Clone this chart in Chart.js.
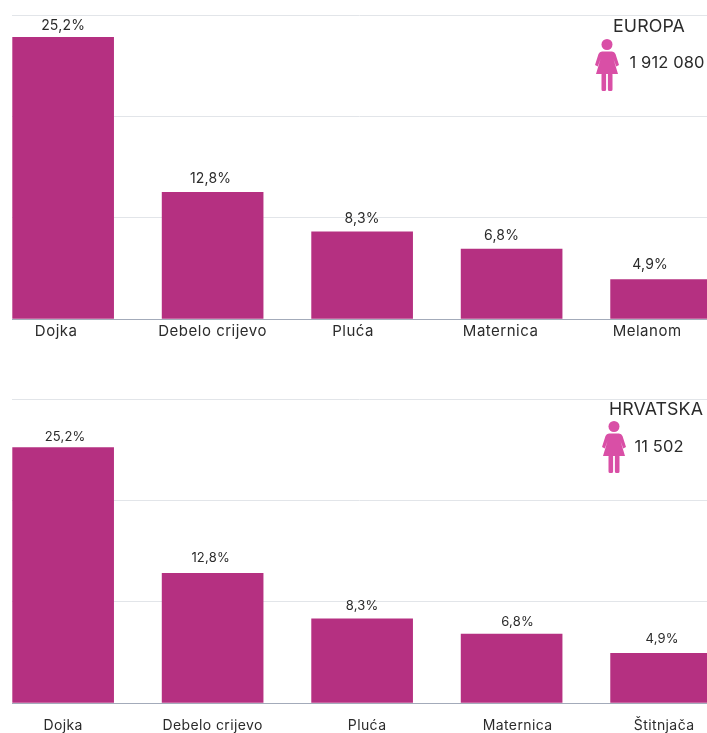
<!DOCTYPE html>
<html><head><meta charset="utf-8">
<script src="https://cdn.jsdelivr.net/npm/chart.js@4"></script>
<style>
html,body{margin:0;padding:0;background:#fff;overflow:hidden}
canvas{position:absolute;left:0}
#c1{top:0}#c2{top:384px}
</style></head><body>
<canvas id="c1" width="707" height="370"></canvas>
<canvas id="c2" width="707" height="349"></canvas>
<script>
const categoriesEuropa = ['Dojka','Debelo crijevo','Pluća','Maternica','Melanom'];
const categoriesHrvatska = ['Dojka','Debelo crijevo','Pluća','Maternica','Štitnjača'];
const valuesEuropa = [27.8,12.5,8.6,6.9,3.9];
const valuesHrvatska = [25.2,12.8,8.3,6.8,4.9];
const labelsEuropa = ['25,2%','12,8%','8,3%','6,8%','4,9%'];
const labelsHrvatska = ['25,2%','12,8%','8,3%','6,8%','4,9%'];
const FONT = 'Inter, sans-serif';
const INK = '#2b2b2b';

function figure(ctx,cx,top,h){
  const s=h/52;
  ctx.save();ctx.translate(cx,top);ctx.scale(s,s);ctx.fillStyle='#d94fa6';
  ctx.beginPath();ctx.arc(0,5.5,5.5,0,Math.PI*2);ctx.fill();
  ctx.beginPath();
  ctx.moveTo(-5,12.5);ctx.lineTo(5,12.5);ctx.quadraticCurveTo(7.5,12.5,8.5,15);
  ctx.lineTo(12,26);ctx.lineTo(9.2,27.5);ctx.lineTo(6.5,20);ctx.lineTo(11,35);
  ctx.lineTo(-11,35);ctx.lineTo(-6.5,20);ctx.lineTo(-9.2,27.5);ctx.lineTo(-12,26);
  ctx.lineTo(-8.5,15);ctx.quadraticCurveTo(-7.5,12.5,-5,12.5);ctx.closePath();ctx.fill();
  ctx.beginPath();
  ctx.roundRect(-5.5,34,4.6,18,1.5);ctx.roundRect(0.9,34,4.6,18,1.5);ctx.fill();
  ctx.restore();
}

function make(id,o){
  const tickPos=o.cats.map((_,i)=>i+o.tickShift[i]/149.5);
  const plugin={id:'notes',
    beforeDraw(chart){chart.ctx.letterSpacing=o.spacing;},
    afterDatasetsDraw(chart){
    const c=chart.ctx,meta=chart.getDatasetMeta(0);
    c.save();c.letterSpacing='0.2px';c.textAlign='center';c.textBaseline='middle';c.fillStyle=INK;c.font=o.lblSize+'px '+FONT;
    meta.data.forEach((b,i)=>c.fillText(o.labels[i],b.x+o.lblDx[i],b.y-o.lblDy[i]));
    c.font='17.8px '+FONT;c.letterSpacing='0.1px';
    c.fillText(o.title,o.titleX,o.titleY);
    c.font='16.5px '+FONT;
    c.fillText(o.count,o.countX,o.countY);
    c.restore();
    figure(c,o.iconX,o.iconY,o.iconH);
  }};
  new Chart(document.getElementById(id),{
    type:'bar',
    data:{datasets:[{data:o.values.map((v,i)=>({x:i,y:v})),backgroundColor:'#b53081',barThickness:101}]},
    options:{
      responsive:false,animation:false,
      layout:{padding:{left:12,top:15,right:0,bottom:0}},
      plugins:{legend:{display:false},tooltip:{enabled:false}},
      scales:{
        x:{type:'linear',offset:false,min:-0.342,max:4.307,
          grid:{display:false,drawTicks:false},border:{color:'#a3abba',width:1},
          afterBuildTicks(s){s.ticks=tickPos.map(v=>({value:v}));},
          afterFit(s){s.height=o.xH;},
          ticks:{font:{family:FONT,size:o.tickSize},color:INK,padding:o.tickPad,autoSkip:false,maxRotation:0,minRotation:0,
            callback(v,i){return o.cats[i];}}},
        y:{min:0,max:30,
          grid:{color:'#e2e5e9',lineWidth:1,drawTicks:false},border:{display:false},
          afterFit(s){s.width=0;},
          ticks:{display:false,stepSize:10}}
      }
    },
    plugins:[plugin]
  });
}
make('c1',{cats:categoriesEuropa,values:valuesEuropa,labels:labelsEuropa,
  tickShift:[-7,0,-9,-11,-14],lblDx:[0,-2,0,-10,-11],lblDy:[11,14,13,13,15],
  xH:51,tickSize:15,tickPad:3,spacing:'0.5px',lblSize:14,
  title:'EUROPA',titleX:649,titleY:27,count:'1 912 080',countX:667,countY:63,iconX:607,iconY:39,iconH:52});
make('c2',{cats:categoriesHrvatska,values:valuesHrvatska,labels:labelsHrvatska,
  tickShift:[0,0,5,6,3],lblDx:[2,-2,0,6,1],lblDy:[11,15,13,12,14],
  xH:30,tickSize:14,tickPad:14,spacing:'0.4px',lblSize:13,
  title:'HRVATSKA',titleX:656,titleY:26,count:'11 502',countX:659,countY:63,iconX:614,iconY:37,iconH:52});
</script>
</body></html>
